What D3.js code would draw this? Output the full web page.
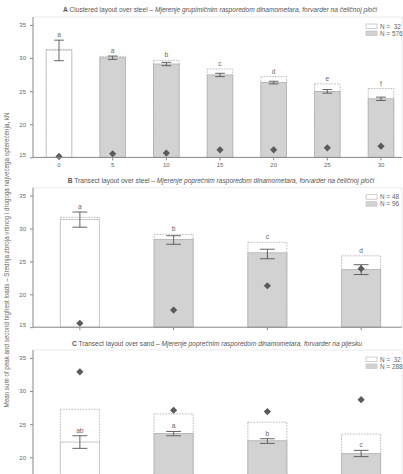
<!DOCTYPE html>
<meta charset="utf-8">
<style>
body { margin: 0; background: #fff; }
svg { font-family: "Liberation Sans Narrow", "Arial Narrow", "Liberation Sans", Arial, sans-serif; }
text { fill: #666; }
.tick-lbl { font-size: 6px; }
.title { font-size: 6.6px; fill: #555; }
.legend { font-size: 6.4px; }
.letter { font-size: 6.6px; }
</style>
<svg width="403" height="474"></svg>
<script src="https://cdn.jsdelivr.net/npm/d3@7/dist/d3.min.js"></script>
<script>
// panel A - clustered layout over steel
var aCats = [0, 5, 10, 15, 20, 25, 30];
var aMean = [31.2, 30.05, 29.1, 27.45, 26.3, 24.95, 23.85];
var aBox = [31.3, 30.25, 29.65, 28.35, 27.2, 26.1, 25.4];
var aErrLo = [29.6, 29.8, 28.85, 27.2, 26.1, 24.7, 23.6];
var aErrHi = [32.7, 30.3, 29.35, 27.7, 26.5, 25.25, 24.1];
var aPeak = [15.15, 15.55, 15.65, 16.15, 16.15, 16.45, 16.7];
var aLetters = ["a", "a", "b", "c", "d", "e", "f"];
var aLegend = ["N =  32", "N = 576"];

// panel B - transect layout over steel
var bCats = ["1", "2", "3", "4"];
var bMean = [31.35, 28.35, 26.3, 23.75];
var bBox = [31.7, 29.1, 27.9, 25.85];
var bErrLo = [30.2, 27.6, 25.4, 23.0];
var bErrHi = [32.5, 28.9, 26.85, 24.5];
var bPeak = [15.6, 17.6, 21.3, 23.9];
var bLetters = ["a", "b", "c", "d"];
var bLegend = ["N = 48", "N = 96"];

// panel C - transect layout over sand
var cCats = ["1", "2", "3", "4"];
var cMean = [22.3, 23.6, 22.5, 20.55];
var cBox = [27.25, 26.55, 25.3, 23.5];
var cErrLo = [21.35, 23.25, 22.1, 20.1];
var cErrHi = [23.25, 23.9, 22.8, 21.05];
var cPeak = [32.9, 27.1, 26.9, 28.7];
var cLetters = ["ab", "a", "b", "c"];
var cLegend = ["N =  32", "N = 288"];

var yTicks = [15, 20, 25, 30, 35];

var svg = d3.select("svg");
var H = 474;
var left = 33, right = 402;

function panel(o) {
  var g = svg.append("g");
  var y = d3.scaleLinear().domain([15, 36.2]).range([o.bottom, o.top]);
  var x, bw;
  if (o.linear) {
    x = d3.scaleLinear().domain([0, 30]).range([59, 381]);
    bw = 25.5;
  } else {
    var band = d3.scaleBand().domain(o.cats).range([left, 408]).paddingInner(0.584).paddingOuter(0.292);
    bw = band.bandwidth();
    x = function(d) { return band(d) + bw / 2; };
  }
  var rows = o.cats.map(function(c, i) {
    return {c: c, i: i, mean: o.mean[i], box: o.box[i], lo: o.errLo[i], hi: o.errHi[i], peak: o.peak[i], letter: o.letters[i]};
  });

  // light frame
  g.append("path")
    .attr("d", "M" + left + "," + o.top + "H" + right + "V" + o.bottom)
    .attr("fill", "none").attr("stroke", "#e6e6e6").attr("stroke-width", 0.8);

  // dotted boxes
  g.selectAll(".box").data(rows).enter().append("rect")
    .attr("x", function(d) { return x(d.c) - bw / 2; })
    .attr("y", function(d) { return y(d.box); })
    .attr("width", bw)
    .attr("height", function(d) { return y(15) - y(d.box); })
    .attr("fill", "none").attr("stroke", "#aaa").attr("stroke-width", 0.8)
    .attr("stroke-dasharray", "1.6,1.2");

  // bars
  g.selectAll(".bar").data(rows).enter().append("rect")
    .attr("x", function(d) { return x(d.c) - bw / 2; })
    .attr("y", function(d) { return y(d.mean); })
    .attr("width", bw)
    .attr("height", function(d) { return y(15) - y(d.mean); })
    .attr("fill", function(d) { return d.i == 0 ? "#fff" : "#d2d2d2"; })
    .attr("stroke", function(d) { return d.i == 0 ? "#c4c4c4" : "#b4b4b4"; })
    .attr("stroke-width", 0.9);

  // error bars
  var cap = bw * 0.38;
  g.selectAll(".err").data(rows).enter().append("path")
    .attr("d", function(d) {
      var cx = x(d.c);
      return "M" + (cx - cap / 2) + "," + y(d.hi) + "H" + (cx + cap / 2) +
        "M" + cx + "," + y(d.hi) + "V" + y(d.lo) +
        "M" + (cx - cap / 2) + "," + y(d.lo) + "H" + (cx + cap / 2);
    })
    .attr("fill", "none").attr("stroke", "#555").attr("stroke-width", 0.9);

  // letters
  g.selectAll(".letter").data(rows).enter().append("text")
    .attr("class", "letter")
    .attr("x", function(d) { return x(d.c); })
    .attr("y", function(d) {
      var v = o.letterOnErr ? d.hi : Math.max(d.hi, d.box);
      return y(v) - 3;
    })
    .attr("text-anchor", "middle")
    .text(function(d) { return d.letter; });

  // peak diamonds
  g.selectAll(".peak").data(rows).enter().append("path")
    .attr("d", d3.symbol(d3.symbolSquare, 26))
    .attr("transform", function(d) { return "translate(" + x(d.c) + "," + y(d.peak) + ") rotate(45)"; })
    .attr("fill", "#5a5a5a");

  // y axis
  var shown = yTicks.filter(function(v) { return y(v) < H - 6; });
  var ya = g.append("g").attr("transform", "translate(" + left + ",0)")
    .call(d3.axisLeft(y).tickValues(shown).tickSize(3).tickPadding(4));
  ya.select(".domain").attr("d", "M0," + o.top + "V" + Math.min(o.bottom, H)).attr("stroke", "#888");
  ya.selectAll(".tick line").attr("stroke", "#888");
  ya.selectAll(".tick text").attr("class", "tick-lbl").attr("font-size", null).attr("font-family", null)
    .attr("dy", function(d) { return d == 15 ? "-0.2em" : "0.32em"; }).attr("fill", null);

  // x axis (only when inside the picture)
  if (o.bottom < H) {
    var xa = g.append("g").attr("transform", "translate(0," + o.bottom + ")");
    xa.append("line").attr("x1", left).attr("x2", right).attr("stroke", "#888");
    xa.selectAll(".xt").data(rows).enter().append("line")
      .attr("x1", function(d) { return x(d.c); }).attr("x2", function(d) { return x(d.c); })
      .attr("y1", 0).attr("y2", 3).attr("stroke", "#888");
    if (o.linear) {
      xa.selectAll(".xl").data(rows).enter().append("text")
        .attr("class", "tick-lbl")
        .attr("x", function(d) { return x(d.c); }).attr("y", 9.5)
        .attr("text-anchor", "middle").text(function(d) { return d.c; });
    }
  }

  // title
  var t = g.append("text").attr("class", "title").attr("x", o.titleX).attr("y", o.titleY)
    .attr("text-anchor", "middle");
  t.append("tspan").attr("font-weight", "bold").text(o.title[0]);
  t.append("tspan").text("  " + o.title[1] + "  \u2013  ");
  t.append("tspan").attr("font-style", "italic").text(o.title[2]);

  // legend
  var lg = g.append("g").attr("transform", "translate(366," + (o.top + 7) + ")");
  lg.selectAll("rect").data(o.legend).enter().append("rect")
    .attr("x", 0).attr("y", function(d, i) { return i * 7; })
    .attr("width", 11).attr("height", 4.5)
    .attr("fill", function(d, i) { return i == 0 ? "#fff" : "#d2d2d2"; })
    .attr("stroke", function(d, i) { return i == 0 ? "#bbb" : "#c4c4c4"; })
    .attr("stroke-width", 0.7);
  lg.selectAll("text").data(o.legend).enter().append("text")
    .attr("class", "legend")
    .attr("x", 14).attr("y", function(d, i) { return i * 7 + 4.5; })
    .style("white-space", "pre")
    .text(function(d) { return d; });
}

panel({top: 17, bottom: 157.4, linear: true, cats: aCats, mean: aMean, box: aBox, errLo: aErrLo, errHi: aErrHi,
  peak: aPeak, letters: aLetters, legend: aLegend, titleX: 220, titleY: 12,
  title: ["A", "Clustered layout over steel", "Mjerenje grupimičnim rasporedom dinamometara, forvarder na čeličnoj ploči"]});
panel({top: 187.7, bottom: 327.2, cats: bCats, mean: bMean, box: bBox, errLo: bErrLo, errHi: bErrHi,
  peak: bPeak, letters: bLetters, legend: bLegend, titleX: 221, titleY: 182.5,
  title: ["B", "Transect layout over steel", "Mjerenje poprečnim rasporedom dinamometara, forvarder na čeličnoj ploči"]});
panel({top: 350, bottom: 490.4, cats: cCats, mean: cMean, box: cBox, errLo: cErrLo, errHi: cErrHi,
  peak: cPeak, letters: cLetters, legend: cLegend, letterOnErr: true, titleX: 217, titleY: 346,
  title: ["C", "Transect layout over sand", "Mjerenje poprečnim rasporedom dinamometara, forvarder na pijesku"]});

// shared y label
svg.append("text")
  .attr("transform", "translate(9,260) rotate(-90)")
  .attr("text-anchor", "middle")
  .attr("font-size", 7)
  .attr("textLength", 295)
  .attr("lengthAdjust", "spacingAndGlyphs")
  .text("Mean sum of peak and second highest loads  \u2013  Srednja zbroja vršnog i drugoga najvećega opterećenja, kN");
</script>
